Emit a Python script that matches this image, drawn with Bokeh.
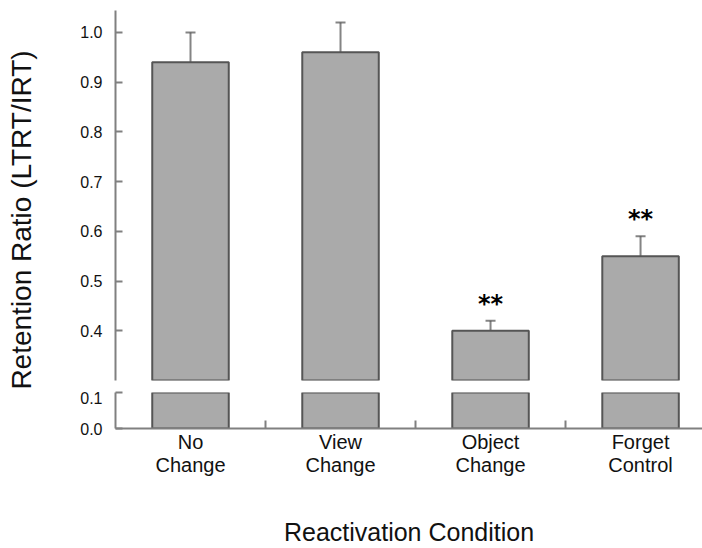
from bokeh.plotting import figure
from bokeh.models import (Range1d, FixedTicker, LinearAxis, Whisker, ColumnDataSource,
                          TeeHead, NumeralTickFormatter, Label)
from bokeh.layouts import row, column
from bokeh.embed import file_html
from bokeh.resources import INLINE
from bokeh.core.properties import value

# ---- data ----
label_line1 = ["No", "View", "Object", "Forget"]
label_line2 = ["Change", "Change", "Change", "Control"]
retention = [0.94, 0.96, 0.40, 0.55]
err_low = [0.88, 0.90, 0.38, 0.51]
err_high = [1.00, 1.02, 0.42, 0.59]
significance = ["", "", "**", "**"]
upper_ticks = [0.4, 0.5, 0.6, 0.7, 0.8, 0.9, 1.0]
lower_ticks = [0.0, 0.1]
lower_segment_top = 0.1
upper_segment_bottom = 0.3
upper_segment_top = 1.044

FONT = "Liberation Sans"
AXIS_GRAY = "#808080"
BAR_FILL = "#aaaaaa"
BAR_LINE = "#555555"

n = len(label_line1)
xs = [i + 0.5 for i in range(n)]
boundaries = list(range(1, n))

src = ColumnDataSource(dict(
    x=xs, top=retention, lo=err_low, hi=err_high, sig=significance,
    low_top=[min(v, lower_segment_top) for v in retention],
))

x_range = Range1d(0, 3.913)
W_LAB = 42
W_MAIN = 660
BORDER_L = 73


def clean(p):
    p.grid.visible = False
    p.outline_line_color = None
    p.background_fill_color = "white"
    p.border_fill_color = "white"


def style_yaxis(ax, ticks):
    ax.ticker = FixedTicker(ticks=ticks)
    ax.formatter = NumeralTickFormatter(format="0.0")
    ax.axis_line_color = AXIS_GRAY
    ax.axis_line_width = 2
    ax.major_tick_line_color = AXIS_GRAY
    ax.major_tick_line_width = 2
    ax.major_tick_in = 7
    ax.major_tick_out = 0
    ax.minor_tick_line_color = None
    ax.major_label_text_font = FONT
    ax.major_label_text_font_size = "16px"
    ax.major_label_text_color = "#111111"
    ax.major_label_standoff = 13


# ---- upper segment ----
p1 = figure(width=W_MAIN, height=391, x_range=x_range,
            y_range=Range1d(upper_segment_bottom, upper_segment_top),
            output_backend="svg", toolbar_location=None,
            min_border_left=BORDER_L, min_border_right=0,
            min_border_top=10, min_border_bottom=11)
clean(p1)
p1.xaxis.visible = False
style_yaxis(p1.yaxis[0], upper_ticks)

p1.vbar(x="x", top="top", bottom=upper_segment_bottom, width=0.51, source=src,
        fill_color=BAR_FILL, line_color=BAR_LINE, line_width=2)
p1.add_layout(Whisker(source=src, base="x", lower="lo", upper="hi",
                      line_color="#505050", line_alpha=0.7, line_width=2,
                      upper_head=TeeHead(size=10, line_color="#505050", line_alpha=0.7, line_width=2),
                      lower_head=TeeHead(size=10, line_color="#505050", line_alpha=0.85, line_width=2)))
p1.text(x="x", y="hi", text="sig", source=src, y_offset=-17,
        text_align="center", text_baseline="alphabetic",
        text_font=value("DejaVu Sans"), text_font_style="bold",
        text_font_size="24px", text_color="#000000")

# ---- lower segment ----
p2 = figure(width=W_MAIN, height=157, x_range=x_range,
            y_range=Range1d(0, lower_segment_top),
            output_backend="svg", toolbar_location=None,
            min_border_left=BORDER_L, min_border_right=0,
            min_border_top=1, min_border_bottom=120)
clean(p2)
style_yaxis(p2.yaxis[0], lower_ticks)
p2.vbar(x="x", top="low_top", bottom=0, width=0.51, source=src,
        fill_color=BAR_FILL, line_color=BAR_LINE, line_width=2)

ax1 = p2.xaxis[0]
ax1.ticker = FixedTicker(ticks=xs, minor_ticks=boundaries)
ax1.major_label_overrides = {x: t for x, t in zip(xs, label_line1)}
ax1.major_tick_in = 0
ax1.major_tick_out = 0
ax1.minor_tick_in = 8
ax1.minor_tick_out = 0
ax1.minor_tick_line_color = AXIS_GRAY
ax1.minor_tick_line_width = 2
ax1.axis_line_color = AXIS_GRAY
ax1.axis_line_width = 2
ax1.major_label_text_font = FONT
ax1.major_label_text_font_size = "20px"
ax1.major_label_text_color = "#111111"
ax1.major_label_standoff = 2

ax2 = LinearAxis(ticker=FixedTicker(ticks=xs),
                 major_label_overrides={x: t for x, t in zip(xs, label_line2)},
                 axis_line_color=None, major_tick_line_color=None,
                 minor_tick_line_color=None, major_tick_in=0, major_tick_out=0,
                 major_label_standoff=-2,
                 major_label_text_font=FONT, major_label_text_font_size="20px",
                 major_label_text_color="#111111",
                 axis_label="Reactivation Condition",
                 axis_label_text_font=FONT, axis_label_text_font_size="25px",
                 axis_label_text_font_style="normal", axis_label_text_color="#111111",
                 axis_label_standoff=39)
p2.add_layout(ax2, "below")

# ---- y axis title ----
lab = figure(width=W_LAB, height=439, x_range=Range1d(0, 1), y_range=Range1d(0, 1),
             output_backend="svg", toolbar_location=None,
             min_border_left=0, min_border_right=0, min_border_top=0, min_border_bottom=0)
clean(lab)
lab.axis.visible = False
lab.add_layout(Label(x=0.5, y=0.5, text="Retention Ratio (LTRT/IRT)",
                     angle=90, angle_units="deg", text_align="center",
                     text_baseline="middle", text_font=FONT,
                     text_font_size="28px", text_color="#111111"))

layout = row(lab, column(p1, p2))
open("out.html", "w").write(file_html(layout, INLINE))
